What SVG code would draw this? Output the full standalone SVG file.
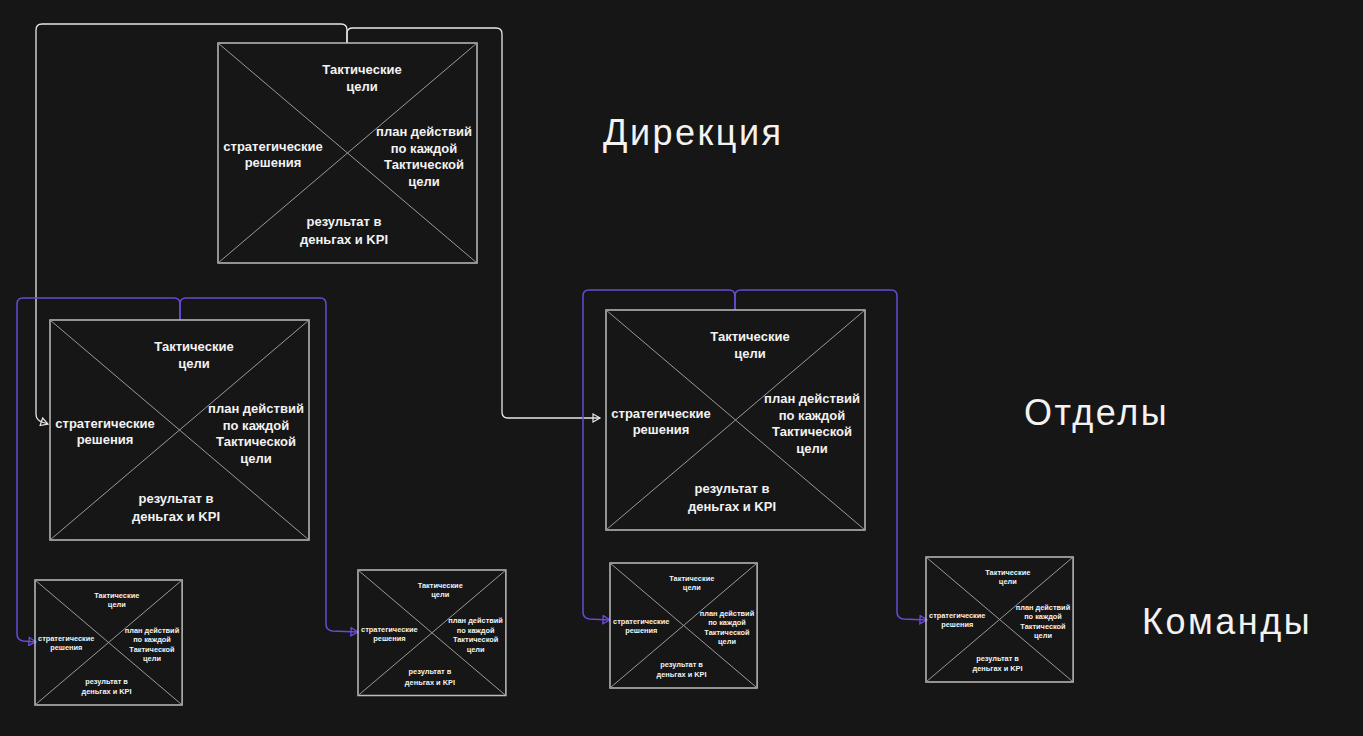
<svg xmlns="http://www.w3.org/2000/svg" width="1363" height="736" viewBox="0 0 1363 736">
<style>
.bx{fill:none;stroke:#bdbdbd;stroke-width:1.5;vector-effect:non-scaling-stroke}
.dg{stroke:#9a9a9a;stroke-width:1;vector-effect:non-scaling-stroke}
.t{font-family:"Comic Sans MS","Liberation Sans",sans-serif;font-size:13px;fill:#f2f2f2;text-anchor:middle;font-weight:bold}
.lb{font-family:"Liberation Sans",sans-serif;font-size:36px;fill:#f2f2f2;letter-spacing:2.5px}
.w{fill:none;stroke:#e8e8e8;stroke-width:1.3}
.p{fill:none;stroke:#6a4ad8;stroke-width:1.5}
</style>
<defs>
<marker id="aw" markerWidth="10" markerHeight="10" refX="8" refY="5" orient="auto" markerUnits="userSpaceOnUse"><path d="M1,1 L8,5 L1,9 Z" fill="none" stroke="#e8e8e8" stroke-width="1.2"/></marker>
<marker id="ap" markerWidth="10" markerHeight="10" refX="8" refY="5" orient="auto" markerUnits="userSpaceOnUse"><path d="M1,1 L8,5 L1,9 Z" fill="none" stroke="#6a4ad8" stroke-width="1.4"/></marker>
<g id="tpl">
<rect class="bx" x="0" y="0" width="259" height="220"/>
<line class="dg" x1="0" y1="0" x2="259" y2="220"/>
<line class="dg" x1="259" y1="0" x2="0" y2="220"/>
<text class="t" x="144" y="31">Тактические</text>
<text class="t" x="144" y="48">цели</text>
<text class="t" x="55" y="108">стратегические</text>
<text class="t" x="55" y="124">решения</text>
<text class="t" x="206" y="93">план действий</text>
<text class="t" x="206" y="110">по каждой</text>
<text class="t" x="206" y="126">Тактической</text>
<text class="t" x="206" y="143">цели</text>
<text class="t" x="126" y="183">результат в</text>
<text class="t" x="126" y="201">деньгах и KPI</text>
</g>
</defs>
<rect width="1363" height="736" fill="#161616"/>
<g id="connectors">
<path class="w" d="M347,43 V30 Q347,24 341,24 H42 Q36,24 36,30 V414 Q36,420 42,422 L48,424" marker-end="url(#aw)"/>
<path class="w" d="M347,43 V33 Q347,28 353,28 H496 Q502,28 502,34 V412 Q502,418 508,418 H600" marker-end="url(#aw)"/>
<path class="p" d="M180,320 V304 Q180,298 174,298 H23 Q17,298 17,304 V634 Q17,640 23,641 L36,642" marker-end="url(#ap)"/>
<path class="p" d="M180,320 V304 Q180,298 186,298 H320 Q326,298 326,304 V624 Q326,630 332,631 L358,632" marker-end="url(#ap)"/>
<path class="p" d="M735,310 V296 Q735,290 729,290 H589 Q583,290 583,296 V612 Q583,618 589,619 L610,620" marker-end="url(#ap)"/>
<path class="p" d="M735,310 V296 Q735,290 741,290 H891 Q897,290 897,296 V612 Q897,618 903,619 L927,620" marker-end="url(#ap)"/>
</g>
<g id="n-dir"><use href="#tpl" transform="translate(218,43)"/></g>
<g id="n-dep1"><use href="#tpl" transform="translate(50,320)"/></g>
<g id="n-dep2"><use href="#tpl" transform="translate(606,310)"/></g>
<g id="n-t1"><use href="#tpl" transform="translate(35,580) scale(0.568)"/></g>
<g id="n-t2"><use href="#tpl" transform="translate(358,570) scale(0.571)"/></g>
<g id="n-t3"><use href="#tpl" transform="translate(610,563) scale(0.568)"/></g>
<g id="n-t4"><use href="#tpl" transform="translate(926,557) scale(0.568)"/></g>
<text class="lb" x="603" y="145">Дирекция</text>
<text class="lb" x="1024" y="425">Отделы</text>
<text class="lb" x="1142" y="634">Команды</text>
</svg>
